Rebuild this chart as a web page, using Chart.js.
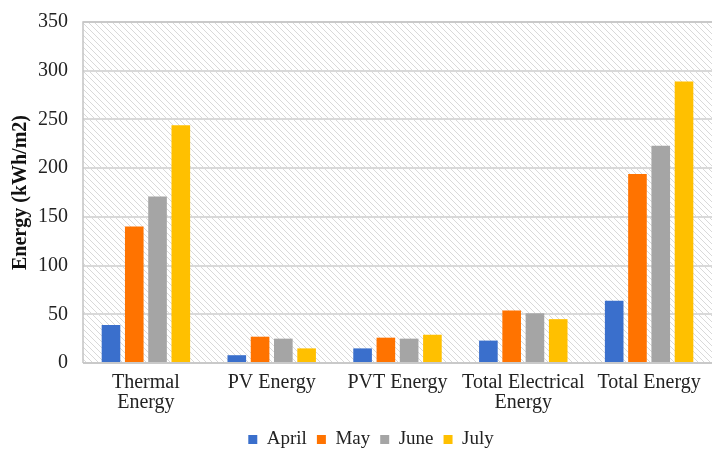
<!DOCTYPE html>
<html>
<head>
<meta charset="utf-8">
<script src="https://cdn.jsdelivr.net/npm/chart.js@4.4.1/dist/chart.umd.min.js"></script>
<style>
  html, body { margin: 0; padding: 0; background: #ffffff; }
  #wrap { width: 713px; height: 451px; position: relative; }
</style>
</head>
<body>
<div id="wrap"><canvas id="c" width="713" height="451"></canvas></div>
<script>
const categories = [["Thermal", "Energy"], "PV Energy", "PVT Energy", ["Total Electrical", "Energy"], "Total Energy"];
const seriesNames = ["April", "May", "June", "July"];
const april = [39, 8, 15, 23, 64];
const may = [140, 27, 26, 54, 194];
const june = [171, 25, 25, 51, 223];
const july = [244, 15, 29, 45, 289];
const yTicks = [0, 50, 100, 150, 200, 250, 300, 350];
const colors = ["#3A6FCC", "#FF7300", "#A5A5A5", "#FFC000"];

function makeHatch() {
  const s = 6;
  const p = document.createElement('canvas');
  p.width = s; p.height = s;
  const g = p.getContext('2d');
  g.fillStyle = '#ffffff';
  g.fillRect(0, 0, s, s);
  g.strokeStyle = '#d9d9d9';
  g.lineWidth = 1;
  g.beginPath();
  g.moveTo(-1, -1); g.lineTo(s + 1, s + 1);
  g.moveTo(-1, s - 1); g.lineTo(1, s + 1);
  g.moveTo(s - 1, -1); g.lineTo(s + 1, 1);
  g.stroke();
  return p;
}

const hatchPlugin = {
  id: 'hatch',
  afterLayout(chart) {
    if (chart.legend) {
      chart.legend.left += 15;
      chart.legend.right += 15;
      chart.legend.top += 8;
      chart.legend.bottom += 8;
    }
    if (chart.scales.x) {
      chart.scales.x.bottom += 14;
    }
  },
  beforeDraw(chart) {
    const { ctx, chartArea: a } = chart;
    ctx.save();
    ctx.fillStyle = ctx.createPattern(makeHatch(), 'repeat');
    ctx.fillRect(a.left, a.top, a.right - a.left, a.bottom - a.top);
    ctx.restore();
  },
  afterDatasetsDraw(chart) {
    const { ctx, chartArea: a } = chart;
    ctx.save();
    ctx.strokeStyle = '#c4c4c4';
    ctx.lineWidth = 1.5;
    ctx.beginPath();
    ctx.moveTo(a.left, a.bottom);
    ctx.lineTo(a.left, a.top);
    ctx.lineTo(a.right, a.top);
    ctx.moveTo(a.left, a.bottom);
    ctx.lineTo(a.right, a.bottom);
    ctx.stroke();
    ctx.restore();
  }
};

const data = [april, may, june, july];
new Chart(document.getElementById('c'), {
  type: 'bar',
  data: {
    labels: categories,
    datasets: seriesNames.map((n, i) => ({
      label: n,
      data: data[i],
      backgroundColor: colors[i],
      borderWidth: 0,
      categoryPercentage: 0.74,
      barPercentage: 0.80
    }))
  },
  options: {
    responsive: false,
    animation: false,
    layout: { padding: { left: 0, right: 1, top: 22, bottom: 0 } },
    plugins: {
      tooltip: { enabled: false },
      legend: {
        position: 'bottom',
        labels: {
          boxWidth: 9,
          boxHeight: 9,
          padding: 10,
          color: '#222222',
          font: { family: 'Liberation Serif', size: 19 }
        }
      }
    },
    scales: {
      x: {
        grid: { display: false, drawTicks: false },
        border: { display: false },
        ticks: {
          color: '#222222',
          font: { family: 'Liberation Serif', size: 20, lineHeight: 1.0 },
          padding: 10,
          maxRotation: 0,
          autoSkip: false
        },
        afterFit(s) { s.height = 49; s.paddingLeft = 0; s.paddingRight = 0; }
      },
      y: {
        min: 0, max: 350,
        afterBuildTicks(s) { s.ticks = yTicks.map(v => ({ value: v })); },
        grid: { color: '#d9d9d9', lineWidth: 2, drawTicks: false },
        border: { display: false },
        ticks: {
          color: '#222222',
          font: { family: 'Liberation Serif', size: 20 },
          padding: 15
        },
        title: {
          display: true,
          text: 'Energy (kWh/m2)',
          color: '#111111',
          font: { family: 'Liberation Serif', size: 20, weight: 'bold' },
          padding: { top: 9, bottom: 4 }
        },
        afterFit(s) { s.width = 83; s.paddingTop = 0; s.paddingBottom = 0; }
      }
    }
  },
  plugins: [hatchPlugin]
});
</script>
</body>
</html>
